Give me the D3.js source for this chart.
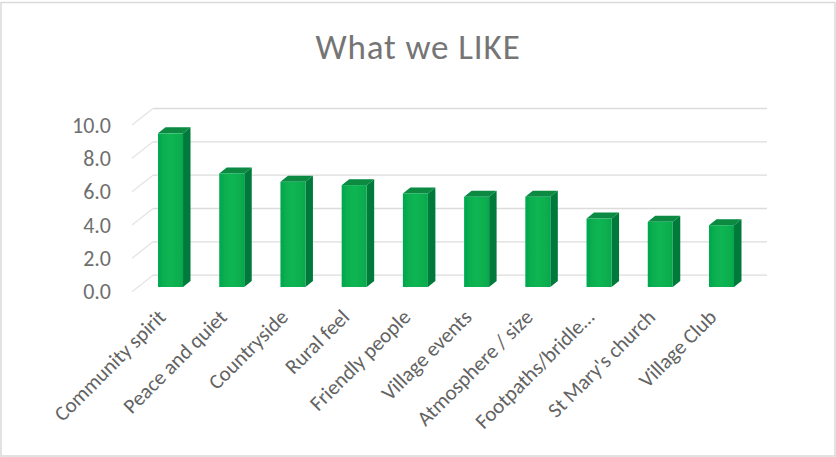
<!DOCTYPE html>
<html>
<head>
<meta charset="utf-8">
<script src="https://d3js.org/d3.v7.min.js"></script>
<style>
  html, body { margin: 0; padding: 0; background: #fff; }
  text { font-family: Carlito, Lato, "Open Sans", sans-serif; fill: #636363; }
</style>
</head>
<body>
<div id="chart"></div>
<script>
var categories = ["Community spirit", "Peace and quiet", "Countryside", "Rural feel", "Friendly people",
  "Village events", "Atmosphere / size", "Footpaths/bridle…", "St Mary's church", "Village Club"];
var values = [9.2, 6.8, 6.3, 6.1, 5.6, 5.4, 5.4, 4.1, 3.9, 3.7];
var yTicks = [0, 2, 4, 6, 8, 10];

var width = 836, height = 457;
// 3d look: how far back the bars and the wall sit from the front of the floor
var barDepth = {x: 7.5, y: 6};
var wallOffset = {x: 21, y: 16.5};

var svg = d3.select("#chart").append("svg")
  .attr("width", width)
  .attr("height", height)
  .style("display", "block");

var defs = svg.append("defs");
var grad = defs.append("linearGradient").attr("id", "front");
grad.append("stop").attr("offset", "0%").attr("stop-color", "#05a84e");
grad.append("stop").attr("offset", "50%").attr("stop-color", "#0ab652");
grad.append("stop").attr("offset", "100%").attr("stop-color", "#06a94d");

defs.append("filter").attr("id", "soft")
  .append("feGaussianBlur").attr("stdDeviation", 0.45);

// chart frame
svg.append("rect")
  .attr("x", 1).attr("y", 2.5)
  .attr("width", 834).attr("height", 453.5)
  .attr("fill", "#fff")
  .attr("stroke", "#d9d9d9")
  .attr("stroke-width", 1.5);

svg.append("text")
  .attr("x", 418)
  .attr("y", 59)
  .attr("text-anchor", "middle")
  .style("font-size", "35px")
  .style("letter-spacing", "0.9px")
  .style("fill", "#757575")
  .text("What we LIKE");

var x = d3.scaleBand()
  .domain(categories)
  .range([127, 765])
  .paddingInner(0.5915)
  .paddingOuter(0.5065);

// front plane of the bars
var y = d3.scaleLinear().domain([0, 10]).range([287, 120]);
// front edge of the floor, used for the value axis
var yFront = d3.scaleLinear().domain([0, 10]).range([291.7, 125]);

// wall gridlines and the diagonal side wall lines
var grid = svg.append("g").attr("filter", "url(#soft)");
grid.selectAll("line.wall")
  .data(yTicks)
  .join("line")
  .attr("class", "wall")
  .attr("x1", 153).attr("x2", 767)
  .attr("y1", d => yFront(d) - wallOffset.y)
  .attr("y2", d => yFront(d) - wallOffset.y)
  .attr("stroke", "#dcdcdc")
  .attr("stroke-width", 1.3);
grid.selectAll("line.side")
  .data(yTicks)
  .join("line")
  .attr("class", "side")
  .attr("x1", 132).attr("x2", 132 + wallOffset.x)
  .attr("y1", d => yFront(d))
  .attr("y2", d => yFront(d) - wallOffset.y)
  .attr("stroke", "#e4e4e4")
  .attr("stroke-width", 1.3);

// value axis
var yAxis = svg.append("g")
  .attr("transform", "translate(111,0)")
  .call(d3.axisLeft(yFront).tickValues(yTicks).tickFormat(d3.format(".1f")).tickSize(0).tickPadding(0));
yAxis.select(".domain").remove();
yAxis.attr("font-family", null);
yAxis.selectAll("text")
  .style("font-size", "22px")
  .style("fill", "#6e6e6e");

// bars: side, top, front
var bars = svg.append("g").attr("filter", "url(#soft)")
  .selectAll("g")
  .data(categories)
  .join("g");

bars.append("path")
  .attr("fill", "#067a3b")
  .attr("d", function(d, i) {
    var r = x(d) + x.bandwidth(), t = y(values[i]), b = y(0);
    return d3.line()([[r, t], [r + barDepth.x, t - barDepth.y], [r + barDepth.x, b - barDepth.y], [r, b]]) + "Z";
  });

bars.append("path")
  .attr("fill", "#078a42")
  .attr("d", function(d, i) {
    var l = x(d), r = l + x.bandwidth(), t = y(values[i]);
    return d3.line()([[l, t], [l + barDepth.x, t - barDepth.y], [r + barDepth.x, t - barDepth.y], [r, t]]) + "Z";
  });

bars.append("rect")
  .attr("x", d => x(d))
  .attr("y", (d, i) => y(values[i]))
  .attr("width", x.bandwidth())
  .attr("height", (d, i) => y(0) - y(values[i]))
  .attr("fill", "url(#front)");

// category axis, labels turned 45 degrees
var xAxis = svg.append("g")
  .attr("transform", "translate(-14,308)")
  .call(d3.axisBottom(x).tickSize(0).tickPadding(0));
xAxis.select(".domain").remove();
xAxis.attr("font-family", null);
xAxis.selectAll("text")
  .style("font-size", "21px")
  .attr("text-anchor", "end")
  .attr("dy", "0.7em")
  .attr("transform", "rotate(-45)");
</script>
</body>
</html>
